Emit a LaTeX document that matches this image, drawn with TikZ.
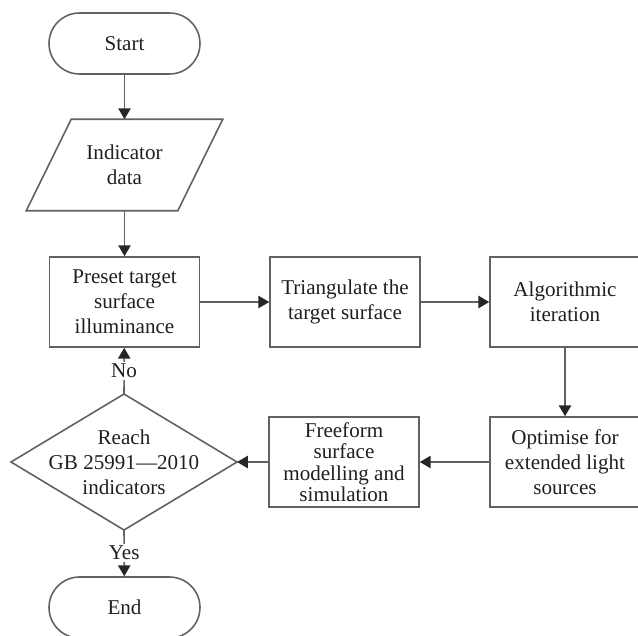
\documentclass[tikz,border=0pt]{standalone}
\usepackage{fontspec}
\setmainfont{Liberation Serif}
\usetikzlibrary{arrows.meta}
\begin{document}
\begin{tikzpicture}[x=0.02cm, y=-0.02cm, line width=0.9pt,
  every node/.style={font=\fontsize{12}{14.2}\selectfont, text=black!88, align=center},
  box/.style={draw=black!62, minimum width=3cm, minimum height=1.8cm, inner sep=1pt},
  term/.style={draw=black!62, rounded corners=0.61cm, minimum width=3.02cm, minimum height=1.22cm},
  arr/.style={draw=black!62, -{Triangle[length=6.2pt, width=7pt, color=black!85]}},
  lbl/.style={fill=white, inner sep=1pt}]
  \useasboundingbox (0,0) rectangle (638,635);
  \node[term] (start) at (124.5,43.5) {Start};
  \node[minimum width=3cm, minimum height=1.8cm] (data) at (124.5,165) {Indicator\\data};
  \draw[draw=black!62] ([xshift=0.45cm]data.north west) -- ([xshift=0.45cm]data.north east)
    -- ([xshift=-0.45cm]data.south east) -- ([xshift=-0.45cm]data.south west) -- cycle;
  \node[box] (preset) at (124.5,302) {Preset target\\surface\\illuminance};
  \node[box] (tri) at (345,302) {Triangulate the\\target surface};
  \node[box] (alg) at (565,302) {Algorithmic\\iteration};
  \node[box] (opt) at (565,462) {Optimise for\\extended light\\sources};
  \node[box, font=\fontsize{12}{12.2}\selectfont] (free) at (344,462) {Freeform\\surface\\modelling and\\simulation};
  \node (reach) at (124,462) {Reach\\GB 25991---2010\\indicators};
  \draw[draw=black!62] (124,394) coordinate (reach-n) -- (237,462) coordinate (reach-e)
    -- (124,530) coordinate (reach-s) -- (11,462) coordinate (reach-w) -- cycle;
  \node[term] (end) at (124.5,607.5) {End};
  \draw[arr] (start) -- (data);
  \draw[arr] (data) -- (preset);
  \draw[arr] (preset) -- (tri);
  \draw[arr] (tri) -- (alg);
  \draw[arr] (alg) -- (opt);
  \draw[arr] (opt) -- (free);
  \draw[arr] (free) -- (reach-e);
  \draw[arr] (reach-n) -- node[lbl] {No} (preset);
  \draw[arr] (reach-s) -- node[lbl] {Yes} (end);
\end{tikzpicture}
\end{document}
